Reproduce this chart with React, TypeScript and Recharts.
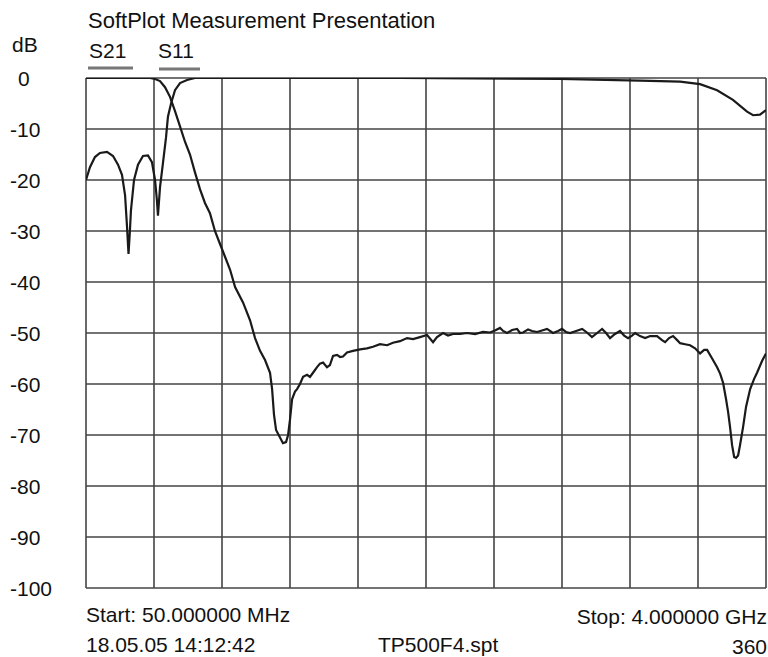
import React from "react";
import { LineChart, Line, XAxis, YAxis, CartesianGrid } from "recharts";

const xTicks = [50, 445, 840, 1235, 1630, 2025, 2420, 2815, 3210, 3605, 4000];
const yTicks = [0, -10, -20, -30, -40, -50, -60, -70, -80, -90, -100];

const s11Freq = [50, 73, 102, 131, 172, 207, 236, 259, 277, 288, 297, 305, 311, 329, 352, 381, 410, 433, 451, 462, 468, 480, 497, 515, 526, 544, 567, 596, 637, 683, 1874, 2803, 3268, 3501, 3617, 3716, 3808, 3890, 3925, 3965, 4000];
const s11Db = [-20, -17.5, -15.5, -14.7, -14.5, -15.3, -17, -19, -23, -29, -34.5, -30, -26, -20, -17, -15.3, -15.2, -16.5, -20, -24, -27, -21.4, -16.7, -11.6, -7.6, -5, -2.4, -1, -0.4, 0, 0, -0.2, -0.5, -0.7, -1.2, -2.4, -4.3, -6.6, -7.3, -7.2, -6.3];

const s21Freq = [50, 422, 451, 480, 509, 538, 567, 596, 625, 654, 683, 712, 741, 770, 799, 828, 857, 887, 916, 962, 1003, 1032, 1061, 1090, 1119, 1131, 1142, 1154, 1177, 1194, 1212, 1224, 1235, 1247, 1264, 1276, 1293, 1311, 1334, 1351, 1375, 1392, 1409, 1427, 1450, 1467, 1485, 1508, 1526, 1543, 1566, 1601, 1642, 1682, 1717, 1758, 1799, 1833, 1874, 1915, 1950, 1990, 2031, 2066, 2089, 2124, 2153, 2182, 2223, 2263, 2310, 2356, 2397, 2426, 2455, 2473, 2496, 2525, 2554, 2571, 2589, 2618, 2641, 2670, 2699, 2728, 2763, 2792, 2815, 2838, 2862, 2897, 2932, 2960, 2989, 3019, 3048, 3071, 3094, 3123, 3152, 3176, 3199, 3222, 3240, 3268, 3298, 3327, 3367, 3396, 3414, 3437, 3460, 3484, 3501, 3530, 3559, 3588, 3617, 3641, 3658, 3687, 3716, 3734, 3751, 3768, 3780, 3791, 3803, 3815, 3826, 3838, 3849, 3867, 3884, 3908, 3931, 3948, 3977, 4000];
const s21Db = [0, 0, -0.2, -0.6, -1.8, -3.7, -6.5, -9.5, -12.5, -15, -18.5, -21.8, -24.5, -26.5, -30, -32.5, -35, -37.6, -41, -44, -47.5, -51, -53.5, -55.3, -57.8, -61, -66, -69, -70.5, -71.6, -71.4, -70, -67, -63, -61.5, -61, -60, -58.6, -58.2, -58.6, -57.5, -56.7, -56, -55.8, -56.7, -56.3, -54.5, -54.3, -54.7, -54.6, -53.8, -53.5, -53.2, -53, -52.7, -52.2, -52.4, -51.9, -51.6, -51, -51.2, -50.8, -50.4, -51.8, -50.8, -50, -50.5, -50.2, -50.2, -50, -50.2, -49.8, -49.9, -49.5, -49, -49.6, -50, -49.4, -49.2, -50, -49.9, -49.3, -49.6, -49.8, -49.5, -49.2, -50, -49.6, -49.2, -49.8, -50, -49.6, -49.2, -49.9, -50.8, -50, -49.2, -50, -51, -50.2, -49.6, -50.5, -51, -50.5, -50, -50.6, -51, -50.6, -50.6, -51.4, -51.8, -51, -50.6, -51.4, -52, -52.2, -52.4, -53, -54, -53.3, -53.3, -55, -56.7, -58, -59.8, -63, -65.5, -68.4, -72, -74.3, -74.5, -74, -72, -68.4, -64.5, -61, -59, -57.8, -55.5, -54];

const s11Data = s11Freq.map((f, i) => ({ f, db: s11Db[i] }));
const s21Data = s21Freq.map((f, i) => ({ f, db: s21Db[i] }));

const FONT = "'Liberation Sans', Arial, sans-serif";
const TXT = "#111";

const YTick = (props: any) => {
  const { y, payload } = props;
  const v = payload.value;
  return (
    <text x={v === 0 ? 18 : 10} y={y + 7.5} fontFamily={FONT} fontSize={21} fill={TXT} textAnchor="start">
      {String(v)}
    </text>
  );
};

const NoTick = () => <g />;

export default function App() {
  return (
    <div style={{ position: "fixed", left: 0, top: 0, width: 768, height: 657, background: "#fff" }}>
      <LineChart width={768} height={657} data={s21Data} margin={{ top: 78, right: 2, bottom: 0, left: 0 }}>
        <CartesianGrid stroke="#444" strokeWidth={1.6} />
        <XAxis
          dataKey="f"
          type="number"
          domain={[50, 4000]}
          ticks={xTicks}
          interval={0}
          height={69}
          tick={<NoTick />}
          axisLine={false}
          tickLine={false}
          allowDataOverflow
        />
        <YAxis
          type="number"
          domain={[-100, 0]}
          ticks={yTicks}
          interval={0}
          width={86}
          tick={<YTick />}
          axisLine={false}
          tickLine={false}
          allowDataOverflow
        />
        <Line data={s21Data} dataKey="db" type="linear" stroke="#1a1a1a" strokeWidth={2.2} dot={false} isAnimationActive={false} />
        <Line data={s11Data} dataKey="db" type="linear" stroke="#1a1a1a" strokeWidth={2.2} dot={false} isAnimationActive={false} />
      </LineChart>
      <svg width={768} height={657} style={{ position: "absolute", left: 0, top: 0, pointerEvents: "none" }}>
        <g fontFamily={FONT} fontSize={21} fill={TXT}>
          <text x={88} y={28} fontSize={22}>SoftPlot Measurement Presentation</text>
          <text x={12} y={52}>dB</text>
          <text x={89} y={58}>S21</text>
          <text x={158} y={58}>S11</text>
          <text x={86} y={622}>Start: 50.000000 MHz</text>
          <text x={767} y={624} textAnchor="end">Stop: 4.000000 GHz</text>
          <text x={86} y={652}>18.05.05 14:12:42</text>
          <text x={378} y={652}>TP500F4.spt</text>
          <text x={767} y={654} textAnchor="end">360</text>
        </g>
        <line x1={88} x2={133} y1={68} y2={68} stroke="#777" strokeWidth={3} />
        <line x1={159} x2={200} y1={69} y2={69} stroke="#777" strokeWidth={3} />
      </svg>
    </div>
  );
}
